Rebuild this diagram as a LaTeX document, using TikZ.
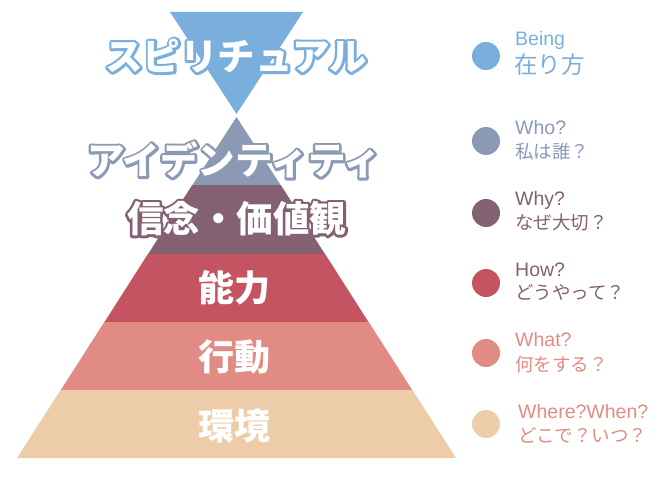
\documentclass[tikz,border=0pt]{standalone}
\usepackage{fontspec}
\setmainfont{Liberation Sans}
\newfontfamily\jp{Noto Sans CJK JP}
\definecolor{cBlue}{HTML}{7AAEDD}
\definecolor{cGrey}{HTML}{8A9AB5}
\definecolor{cPurple}{HTML}{846073}
\definecolor{cRed}{HTML}{C55462}
\definecolor{cSalmon}{HTML}{E08C84}
\definecolor{cTan}{HTML}{EDCCAA}
\newcommand\outl[2]{\rlap{\color{#1}\special{pdf:literal direct 1 Tr 5 w 1 j}#2\special{pdf:literal direct 0 Tr 0.4 w}}#2}
\tikzset{
  biglbl/.style={inner sep=0pt, text=white, font=\jp\bfseries\fontsize{36}{40}\selectfont},
  katalbl/.style={biglbl, font=\jp\bfseries\fontsize{37.5}{40}\selectfont},
  dot/.style={circle, minimum size=28pt, inner sep=0pt},
  lgen/.style={anchor=west, inner sep=0pt, font=\fontsize{19.5}{21}\selectfont},
  ljp/.style={anchor=west, inner sep=0pt, font=\jp\fontsize{18.5}{20}\selectfont},
}
\begin{document}
\begin{tikzpicture}[x=1pt,y=-1pt]
\useasboundingbox (0,0) rectangle (668,476);
% inverted triangle
\fill[cBlue] (170,12) -- (303,12) -- (236.5,114) -- cycle;
% pyramid layers
\fill[cGrey] (236.5,117) -- (280.8,185.3) -- (192.2,185.3) -- cycle;
\fill[cPurple] (192.2,185) -- (280.8,185) -- (325.1,254.3) -- (147.9,254.3) -- cycle;
\fill[cRed] (147.9,254) -- (325.1,254) -- (368.7,322.3) -- (104.3,322.3) -- cycle;
\fill[cSalmon] (104.3,322) -- (368.7,322) -- (412.4,390.3) -- (60.6,390.3) -- cycle;
\fill[cTan] (60.6,390) -- (412.4,390) -- (456,458) -- (17,458) -- cycle;
% labels
\node[katalbl] (spirit) at (236,56) {\outl{cBlue}{スピリチュアル}};
\node[katalbl] (ident) at (234,160) {\outl{cGrey}{アイデンティティ}};
\node[biglbl, font=\jp\bfseries\fontsize{36.5}{40}\selectfont] (belief) at (236.5,218.5) {\outl{cPurple}{信念・価値観}};
\node[biglbl] (abil) at (234,287.5) {能力};
\node[biglbl] (behav) at (234,356.5) {行動};
\node[biglbl] (envir) at (234,425.5) {環境};
% legend
\node[dot, fill=cBlue] (d1) at (486,56) {};
\node[dot, fill=cGrey] (d2) at (486,141) {};
\node[dot, fill=cPurple] (d3) at (486,213) {};
\node[dot, fill=cRed] (d4) at (486,283) {};
\node[dot, fill=cSalmon] (d5) at (486,353) {};
\node[dot, fill=cTan] (d6) at (486,424) {};
\node[lgen, text=cBlue] (t1a) at (515,40) {Being};
\node[ljp, text=cBlue, font=\jp\fontsize{23.5}{26}\selectfont] (t1b) at (514,65) {在り方};
\node[lgen, text=cGrey] (t2a) at (515,128) {Who?};
\node[ljp, text=cGrey] (t2b) at (515,151) {私は誰？};
\node[lgen, text=cPurple] (t3a) at (515,200) {Why?};
\node[ljp, text=cPurple] (t3b) at (515,223) {なぜ大切？};
\node[lgen, text=cPurple] (t4a) at (515,270) {How?};
\node[ljp, text=cPurple] (t4b) at (515,292) {どうやって？};
\node[lgen, text=cSalmon] (t5a) at (515,340) {What?};
\node[ljp, text=cSalmon] (t5b) at (515,364) {何をする？};
\node[lgen, text=cSalmon] (t6a) at (518,412) {Where?When?};
\node[ljp, text=cSalmon] (t6b) at (518,435) {どこで？いつ？};
\end{tikzpicture}
\end{document}
